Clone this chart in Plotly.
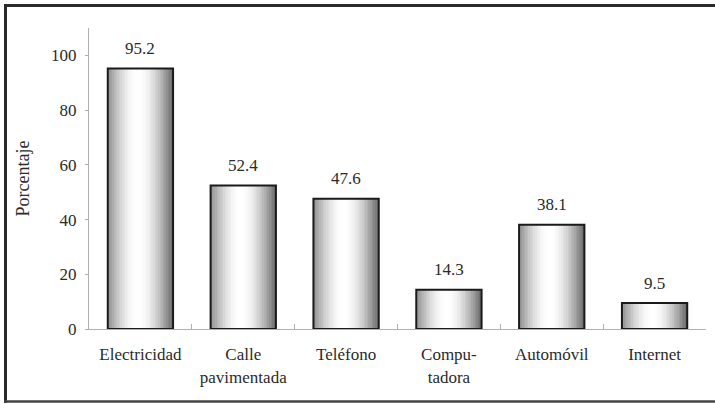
import math
import plotly.graph_objects as go

categories = ["Electricidad", "Calle<br>pavimentada", "Teléfono", "Compu-<br>tadora", "Automóvil", "Internet"]
values = [95.2, 52.4, 47.6, 14.3, 38.1, 9.5]
value_labels = ["95.2", "52.4", "47.6", "14.3", "38.1", "9.5"]
y_ticks = [0, 20, 40, 60, 80, 100]
y_title = "Porcentaje"

FONT = "Liberation Serif"
FS = 17
TXT = "#2a2a2a"
BW = 0.635
N = 40
P = 0.47

L, R, T, B = 89, 706, 28, 329
W, H = 715, 404
PW, PH = R - L, B - T


def shade(t):
    if t < P:
        lo = 0.55
        v = lo + (1 - lo) * math.sin(math.pi / 2 * t / P)
    else:
        lo = 0.42
        v = lo + (1 - lo) * math.cos(math.pi / 2 * (t - P) / (1 - P))
    g = int(round(255 * v))
    return f"rgb({g},{g},{g})"


def px_x(p):
    return (p - L) / PW


def px_y(p):
    return (B - p) / PH


fig = go.Figure()
sw = BW / N
for i in range(N):
    t = (i + 0.5) / N
    fig.add_trace(go.Bar(
        x=categories, y=values, width=sw * 1.15, offset=-BW / 2 + i * sw,
        marker=dict(color=shade(t), line=dict(width=0)),
        hoverinfo="skip", showlegend=False,
    ))
fig.add_trace(go.Bar(
    x=categories, y=values, width=BW, offset=-BW / 2,
    marker=dict(color="rgba(0,0,0,0)", line=dict(color="#1a1a1a", width=2)),
    showlegend=False,
))

for c, v, lab in zip(categories, values, value_labels):
    fig.add_annotation(x=c, y=v, text=lab, showarrow=False, yshift=20,
                       font=dict(family=FONT, size=FS, color=TXT))

fig.add_annotation(x=px_x(22), y=0.5, xref="paper", yref="paper",
                   xanchor="center", yanchor="middle",
                   text=y_title, textangle=-90, showarrow=False,
                   font=dict(family=FONT, size=FS + 1, color=TXT))

border = "#2a2a2a"
shapes = [
    dict(type="line", xref="paper", yref="paper", x0=px_x(4), x1=px_x(715),
         y0=px_y(5.5), y1=px_y(5.5), line=dict(color=border, width=3)),
    dict(type="line", xref="paper", yref="paper", x0=px_x(5.5), x1=px_x(5.5),
         y0=px_y(4), y1=px_y(403), line=dict(color=border, width=3)),
    dict(type="line", xref="paper", yref="paper", x0=px_x(4), x1=px_x(715),
         y0=px_y(401.5), y1=px_y(401.5), line=dict(color="#444", width=2.5)),
]

fig.update_layout(
    width=W, height=H,
    margin=dict(l=L, r=W - R, t=T, b=H - B, autoexpand=False),
    paper_bgcolor="white", plot_bgcolor="white",
    barmode="overlay",
    font=dict(family=FONT, size=FS, color=TXT),
    xaxis=dict(
        showline=True, linecolor="#b0b0b0", linewidth=1, automargin=False,
        ticks="inside", ticklen=5, tickcolor="#b0b0b0", tickson="boundaries",
        showgrid=False, tickfont=dict(family=FONT, size=FS, color=TXT),
        ticklabelstandoff=10, range=[-0.5, 5.5],
    ),
    yaxis=dict(
        range=[0, 110], tickvals=y_ticks, showline=True, linecolor="#b0b0b0",
        linewidth=1, ticks="outside", ticklen=3, tickcolor="#b0b0b0",
        showgrid=False, zeroline=False, ticklabelstandoff=5, automargin=False,
        tickfont=dict(family=FONT, size=FS, color=TXT),
    ),
    shapes=shapes,
)

fig.write_html(
    "out.html", config={"displayModeBar": False},
    post_script=("document.body.style.margin='0';"
                 "document.body.style.overflow='hidden';"
                 "document.documentElement.style.overflow='hidden';"),
)
